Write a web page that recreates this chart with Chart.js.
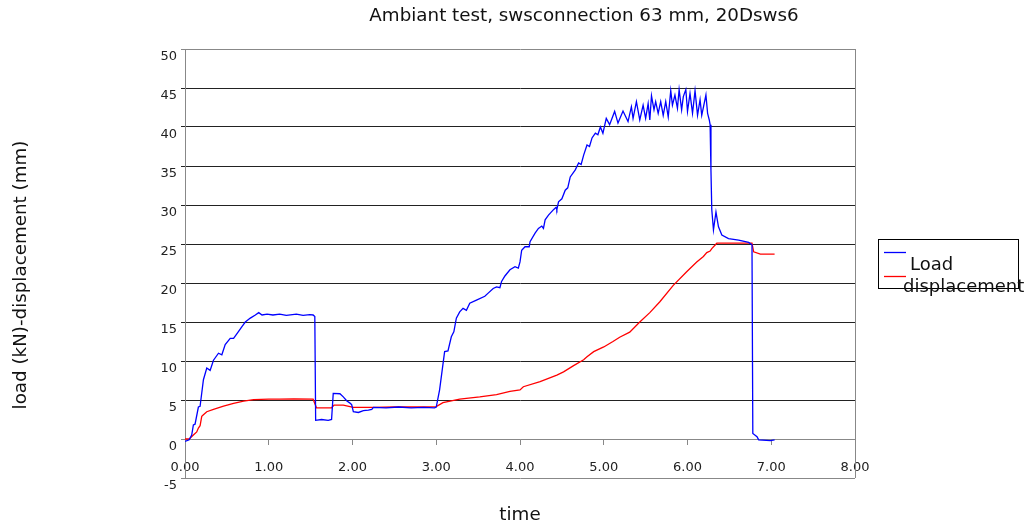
<!DOCTYPE html>
<html>
<head>
<meta charset="utf-8">
<script src="https://cdn.jsdelivr.net/npm/chart.js@4/dist/chart.umd.min.js"></script>
<style>
  html, body { margin: 0; padding: 0; background: #fff; }
  canvas { display: block; }
</style>
</head>
<body>
<canvas id="testChart" width="1034" height="528"></canvas>
<script>
// Values
const loadTime = [0.00, 0.05, 0.08, 0.10, 0.12, 0.16, 0.18, 0.20, 0.22, 0.26, 0.30, 0.34, 0.40, 0.44, 0.48,
    0.54, 0.58, 0.64, 0.68, 0.72, 0.78, 0.84, 0.88, 0.92, 0.98, 1.05, 1.13, 1.21, 1.33, 1.41, 1.49, 1.53, 1.55,
    1.56, 1.63, 1.71, 1.75, 1.77, 1.85, 1.89, 1.93, 1.97, 1.99, 2.01, 2.07, 2.13, 2.19, 2.23, 2.25, 2.40, 2.55,
    2.70, 2.85, 2.98, 3.00, 3.04, 3.10, 3.14, 3.18, 3.21, 3.24, 3.28, 3.32, 3.36, 3.40, 3.48, 3.58, 3.62, 3.68,
    3.72, 3.76, 3.78, 3.82, 3.88, 3.94, 3.98, 4.00, 4.02, 4.06, 4.11, 4.12, 4.18, 4.22, 4.26, 4.28, 4.30, 4.34,
    4.40, 4.43, 4.44, 4.46, 4.50, 4.54, 4.57, 4.60, 4.66, 4.70, 4.73, 4.76, 4.80, 4.83, 4.86, 4.90, 4.93, 4.96,
    4.99, 5.03, 5.07, 5.13, 5.17, 5.23, 5.29, 5.33, 5.35, 5.39, 5.43, 5.47, 5.50, 5.53, 5.55, 5.57, 5.60, 5.62,
    5.65, 5.68, 5.71, 5.74, 5.77, 5.80, 5.82, 5.85, 5.88, 5.90, 5.93, 5.95, 5.98, 6.00, 6.03, 6.06, 6.09, 6.12,
    6.15, 6.17, 6.22, 6.24, 6.26, 6.27, 6.28, 6.29, 6.31, 6.34, 6.37, 6.41, 6.49, 6.61, 6.73, 6.77, 6.78, 6.83,
    6.85, 6.99, 7.04];
const loadValues = [-0.3, -0.1, 0.5, 1.8, 1.9, 4.1, 4.2, 5.9, 7.6, 9.1, 8.8, 10.1, 11.0, 10.8, 12.1,
    12.9, 12.9, 13.8, 14.4, 15.0, 15.5, 15.9, 16.2, 15.9, 16.0, 15.9, 16.0, 15.85, 16.0, 15.85, 15.95, 15.9, 15.7,
    2.4, 2.5, 2.4, 2.5, 5.85, 5.8, 5.4, 4.9, 4.6, 4.4, 3.5, 3.4, 3.65, 3.7, 3.8, 4.05, 4.0, 4.1,
    4.0, 4.05, 4.0, 4.1, 6.3, 11.2, 11.3, 13.1, 13.75, 15.5, 16.3, 16.75, 16.5, 17.4, 17.8, 18.3, 18.7, 19.3,
    19.5, 19.4, 20.2, 20.9, 21.7, 22.1, 21.9, 22.7, 24.2, 24.65, 24.65, 25.3, 26.4, 27.0, 27.3, 27.0, 28.1, 28.7,
    29.4, 29.7, 29.4, 30.4, 30.8, 31.9, 32.2, 33.6, 34.5, 35.4, 35.2, 36.4, 37.7, 37.5, 38.6, 39.2, 39.0, 40.0,
    39.2, 41.1, 40.3, 42.0, 40.5, 42.05, 40.7, 42.6, 41.1, 43.25, 40.9, 42.8, 41.1, 43.0, 40.9, 44.0, 42.2, 43.25,
    41.75, 43.25, 41.5, 43.25, 41.3, 44.65, 42.8, 44.1, 42.4, 44.8, 42.2, 43.9, 44.8, 42.0, 44.3, 41.75, 44.65, 41.5,
    43.5, 41.5, 44.1, 41.75, 40.9, 40.3, 34.5, 29.4, 26.8, 29.1, 27.2, 26.15, 25.7, 25.5, 25.2, 24.9, 0.7, 0.3,
    -0.1, -0.2, -0.1];

const dispTime = [0.00, 0.05, 0.10, 0.14, 0.16, 0.18, 0.20, 0.22, 0.26, 0.34, 0.46, 0.58, 0.70, 0.82, 1.00,
    1.13, 1.30, 1.53, 1.57, 1.75, 1.78, 1.89, 2.01, 2.25, 2.50, 2.75, 3.00, 3.08, 3.28, 3.52, 3.72, 3.88, 4.00,
    4.04, 4.24, 4.44, 4.52, 4.64, 4.76, 4.80, 4.88, 5.00, 5.11, 5.19, 5.31, 5.43, 5.55, 5.67, 5.83, 5.99, 6.11,
    6.19, 6.23, 6.27, 6.29, 6.35, 6.77, 6.79, 6.87, 7.04];
const dispValues = [0.0, 0.0, 0.5, 0.9, 1.4, 1.7, 2.9, 3.1, 3.5, 3.8, 4.2, 4.56, 4.85, 5.05, 5.1,
    5.1, 5.15, 5.1, 4.0, 4.0, 4.35, 4.35, 4.05, 4.05, 4.1, 4.1, 4.15, 4.65, 5.1, 5.4, 5.7, 6.1, 6.3,
    6.7, 7.35, 8.2, 8.6, 9.4, 10.15, 10.55, 11.2, 11.8, 12.5, 13.05, 13.7, 15.0, 16.2, 17.6, 19.7, 21.45, 22.7,
    23.4, 23.9, 24.1, 24.4, 25.1, 25.1, 24.0, 23.7, 23.7];

const seriesNames = ['Load', 'displacement'];
const xTicks = [0, 1, 2, 3, 4, 5, 6, 7, 8];
const yTicks = [-5, 0, 5, 10, 15, 20, 25, 30, 35, 40, 45, 50];

const chartTitle = 'Ambiant test, swsconnection 63 mm, 20Dsws6';
const xTitle = 'time';
const yTitle = 'load (kN)-displacement (mm)';

const fontFamily = '"DejaVu Sans", sans-serif';

function toPoints(xs, ys) {
    return xs.map((x, i) => ({ x: x, y: ys[i] }));
}

// Titles, legend and the right frame edge, drawn on top of the chart
const decorations = {
    id: 'decorations',
    afterDraw(chart) {
        const { ctx, chartArea } = chart;
        ctx.save();

        ctx.strokeStyle = '#888';
        ctx.lineWidth = 1;
        ctx.beginPath();
        ctx.moveTo(chartArea.right + 0.5, chartArea.top);
        ctx.lineTo(chartArea.right + 0.5, chartArea.bottom);
        ctx.stroke();

        ctx.fillStyle = '#111';
        ctx.font = '18.3px ' + fontFamily;
        ctx.textAlign = 'center';
        ctx.textBaseline = 'middle';
        ctx.fillText(chartTitle, 584, 16);
        ctx.fillText(xTitle, 520, 515);

        ctx.save();
        ctx.translate(21, 275);
        ctx.rotate(-Math.PI / 2);
        ctx.fillText(yTitle, 0, 0);
        ctx.restore();

        // legend box
        ctx.strokeStyle = '#000';
        ctx.strokeRect(878.5, 239.5, 140, 49);
        ctx.font = '18px ' + fontFamily;
        ctx.textAlign = 'left';
        ctx.textBaseline = 'alphabetic';
        const rows = [
            { lineY: 252.5, textX: 910, textY: 270 },
            { lineY: 276.5, textX: 903, textY: 292 }
        ];
        chart.data.datasets.forEach((ds, i) => {
            const r = rows[i];
            ctx.strokeStyle = ds.borderColor;
            ctx.lineWidth = 1.3;
            ctx.beginPath();
            ctx.moveTo(884, r.lineY);
            ctx.lineTo(906, r.lineY);
            ctx.stroke();
            ctx.fillStyle = '#111';
            ctx.fillText(ds.label, r.textX, r.textY);
        });

        ctx.restore();
    }
};

const ctx = document.getElementById('testChart').getContext('2d');

const testChart = new Chart(ctx, {
    type: 'line',
    data: {
        datasets: [{
            label: seriesNames[0],
            data: toPoints(loadTime, loadValues),
            borderColor: '#0000ff',
            borderWidth: 1.3,
            pointRadius: 0,
            tension: 0
        }, {
            label: seriesNames[1],
            data: toPoints(dispTime, dispValues),
            borderColor: '#ff0000',
            borderWidth: 1.3,
            pointRadius: 0,
            tension: 0
        }]
    },
    options: {
        responsive: false,
        animation: false,
        devicePixelRatio: 1,
        layout: {
            padding: { left: 0, top: 49, right: 179, bottom: 50 }
        },
        plugins: {
            legend: { display: false },
            title: { display: false },
            tooltip: { enabled: false }
        },
        scales: {
            x: {
                type: 'linear',
                position: { y: 0 },
                min: 0,
                max: 8,
                afterBuildTicks: (scale) => {
                    scale.ticks = xTicks.map(v => ({ value: v }));
                },
                afterFit: (scale) => {
                    scale.paddingLeft = 0;
                    scale.paddingRight = 0;
                },
                ticks: {
                    callback: (v) => Number(v).toFixed(2),
                    font: { family: fontFamily, size: 13 },
                    color: '#222',
                    padding: 16,
                    maxRotation: 0,
                    autoSkip: false
                },
                grid: {
                    drawOnChartArea: false,
                    drawTicks: true,
                    tickLength: 5,
                    color: '#888'
                },
                border: { display: true, color: '#888' }
            },
            y: {
                type: 'linear',
                min: -5,
                max: 50,
                afterBuildTicks: (scale) => {
                    scale.ticks = yTicks.map(v => ({ value: v }));
                },
                afterFit: (scale) => {
                    scale.width = 185;
                    scale.paddingTop = 0;
                    scale.paddingBottom = 0;
                },
                ticks: {
                    font: { family: fontFamily, size: 13 },
                    color: '#222',
                    padding: 4,
                    labelOffset: 8
                },
                grid: {
                    drawTicks: true,
                    tickLength: 4,
                    color: (c) => [50, 0, -5].includes(c.tick.value) ? '#888' : '#222'
                },
                border: { display: true, color: '#888' }
            }
        }
    },
    plugins: [decorations]
});
</script>
</body>
</html>
